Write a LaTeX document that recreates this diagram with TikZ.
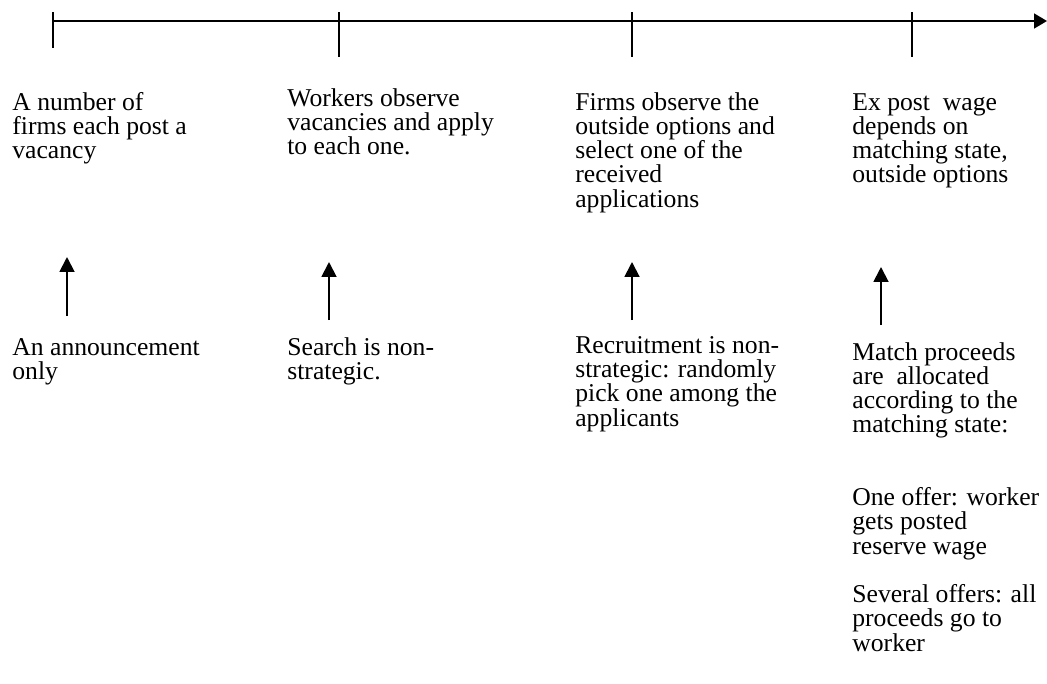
\documentclass[tikz,border=0pt]{standalone}
\usepackage{fontspec}
\setmainfont{Liberation Serif}
\usetikzlibrary{arrows.meta}

\tikzset{
  txt/.style={anchor=base west, inner sep=0pt, align=left, font=\fontsize{14.6}{13.8}\selectfont},
  axis/.style={line width=1.1pt, -{Triangle[length=7.4pt,width=8.5pt]}},
  tickline/.style={line width=1.1pt},
  up/.style={line width=1.1pt, -{Triangle[length=8.5pt,width=8.5pt]}}
}

\begin{document}
\begin{tikzpicture}[x=0.02cm,y=-0.02cm]
\useasboundingbox (0,0) rectangle (1047,683);
\coordinate (T0) at (53,21);
\coordinate (T1) at (339,21);
\coordinate (T2) at (632,21);
\coordinate (T3) at (912,21);
\coordinate (E) at (1047,21);
\draw[axis] (T0) -- (E);
\draw[tickline] (T0) ++(0,-9) -- ++(0,36);
\foreach \t in {T1,T2,T3}
  \draw[tickline] (\t) ++(0,-9) -- ++(0,45);

\node[txt] (top1) at (12,158.6) {A number of\\firms each post a\\vacancy};
\node[txt] (top2) at (287,154.6) {Workers observe\\vacancies and apply\\to each one.};
\node[txt] (top3) at (575,207.2) {Firms observe the\\outside options and\\select one of the\\received\\applications};
\node[txt] (top4) at (852,182.9) {Ex post~ wage\\depends on\\matching state,\\outside options};

\node[txt] (bot1) at (12,379.3) {An announcement\\only};
\node[txt] (bot2) at (287,379.3) {Search is non-\\strategic.};
\node[txt] (bot3) at (575,426) {Recruitment is non-\\strategic: randomly\\pick one among the\\applicants};
\node[txt] (bot4) at (852,651) {Match proceeds\\are~ allocated\\according to the\\matching state:\\[27.6pt]One offer: worker\\gets posted\\reserve wage\\[13.8pt]Several offers: all\\proceeds go to\\worker};

\coordinate (a1) at (67,316);
\coordinate (b1) at (67,257);
\coordinate (a2) at (329,320);
\coordinate (b2) at (329,262);
\coordinate (a3) at (632,320);
\coordinate (b3) at (632,262);
\coordinate (a4) at (881,325);
\coordinate (b4) at (881,267);
\draw[up] (a1) -- (b1);
\draw[up] (a2) -- (b2);
\draw[up] (a3) -- (b3);
\draw[up] (a4) -- (b4);
\end{tikzpicture}
\end{document}
